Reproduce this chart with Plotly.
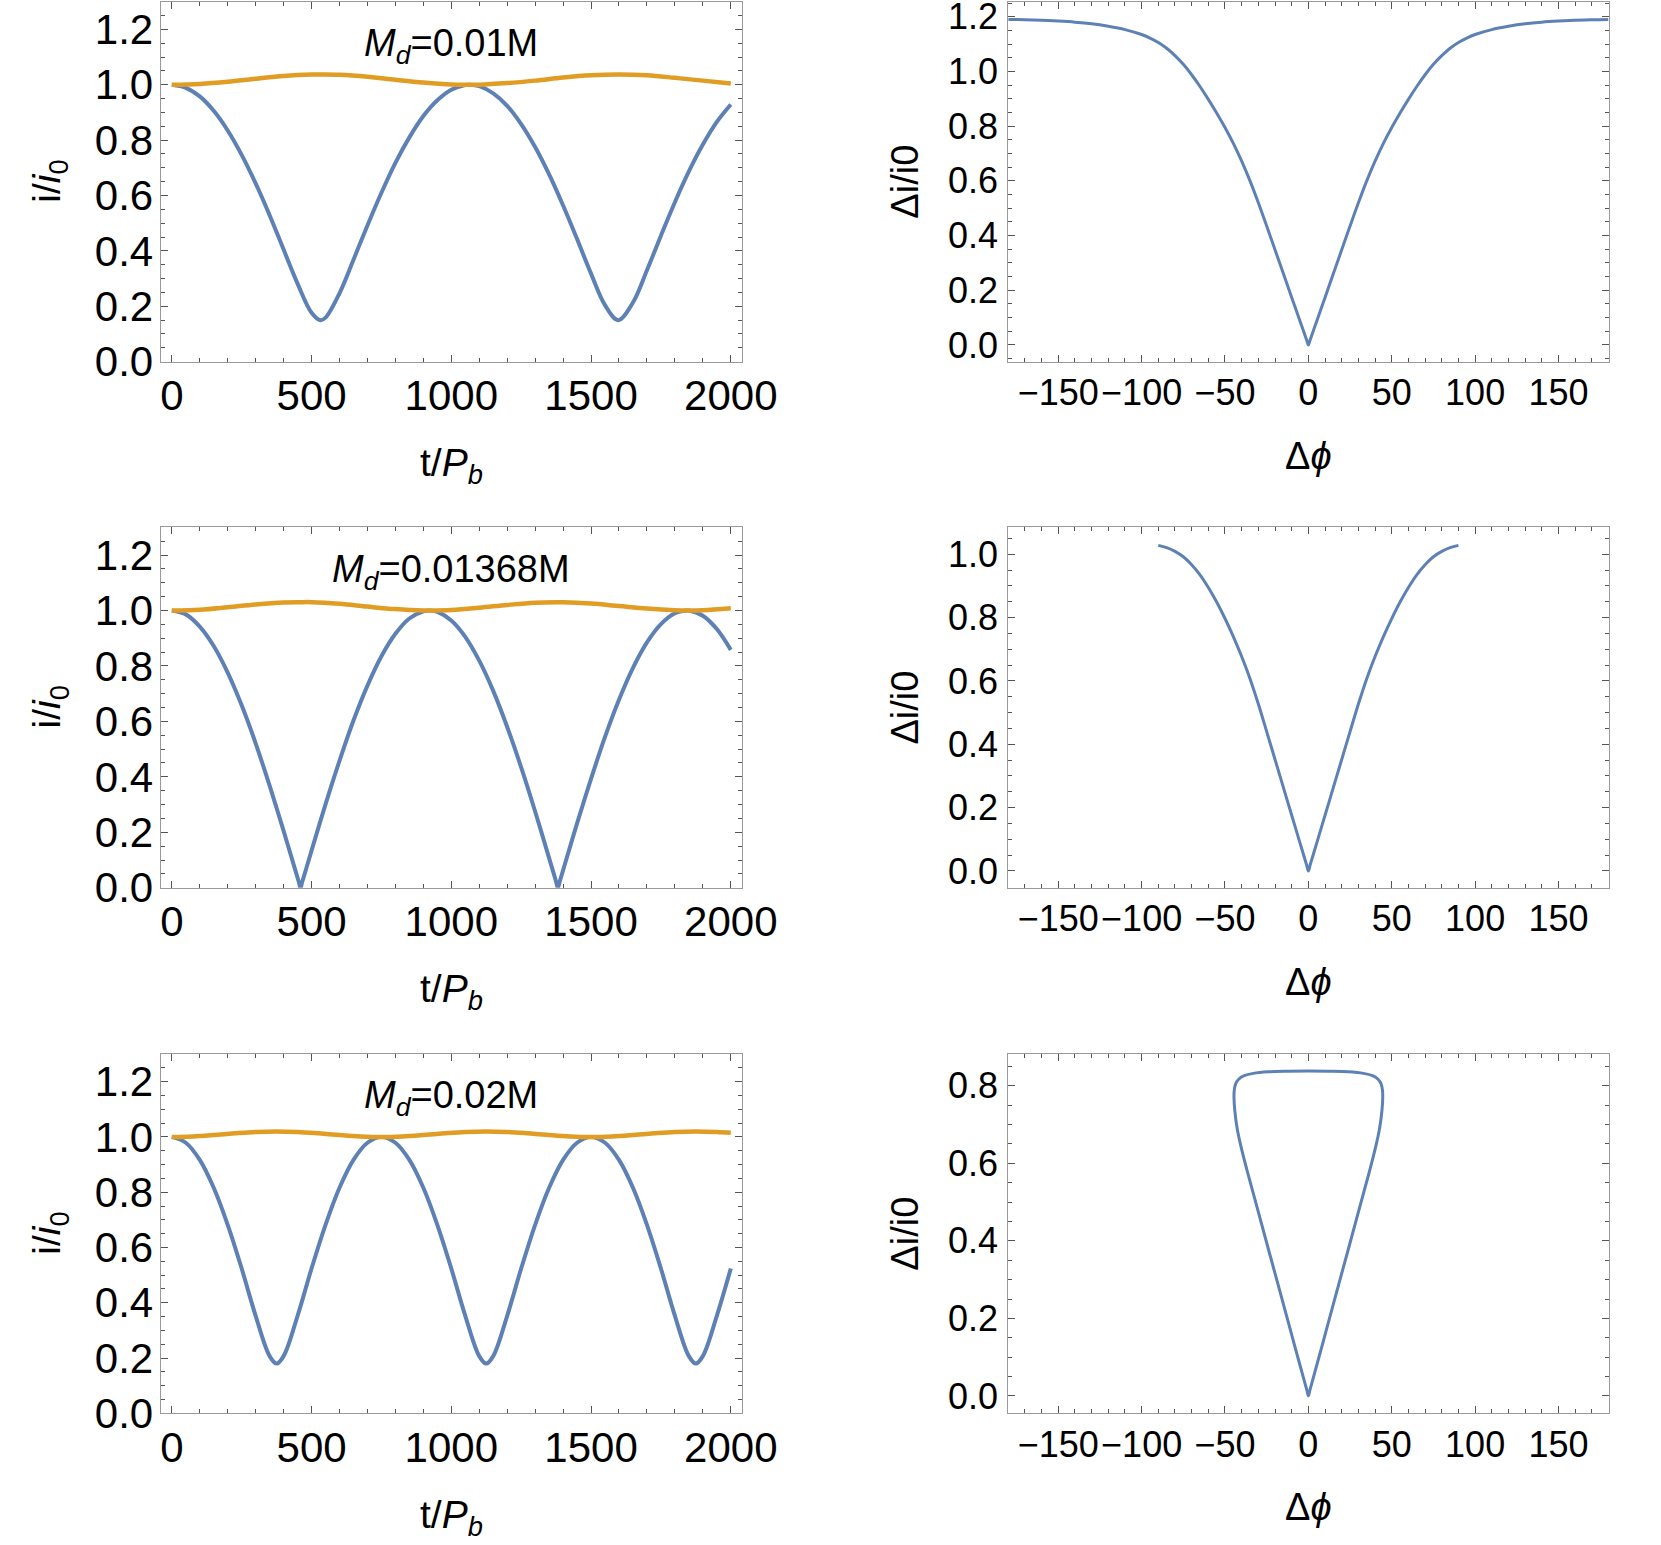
import plotly.graph_objects as go

W, H = 1661, 1545
BLUE = "#5E81B5"
ORANGE = "#E19C24"
FONT = "Liberation Sans, Arial, sans-serif"

# ---------------- left column: i/i0 vs t/P_b ----------------
# Md = 0.01M
t_a = [0, 50, 100, 150, 200, 250, 300, 350, 400, 450, 500, 532, 550, 600, 650, 700, 750, 800,
       850, 900, 950, 1000, 1050, 1065, 1100, 1150, 1200, 1250, 1300, 1350, 1400, 1450, 1500,
       1550, 1597, 1650, 1700, 1750, 1800, 1850, 1900, 1950, 2000]
blue_a = [1.000, 0.989, 0.958, 0.906, 0.835, 0.747, 0.644, 0.529, 0.405, 0.282, 0.177, 0.150,
          0.159, 0.247, 0.368, 0.492, 0.610, 0.718, 0.810, 0.887, 0.944, 0.982, 0.999, 1.000,
          0.995, 0.969, 0.924, 0.858, 0.775, 0.676, 0.564, 0.443, 0.318, 0.204, 0.150, 0.214,
          0.330, 0.455, 0.576, 0.687, 0.784, 0.866, 0.929]
to_a = [0, 100, 200, 300, 400, 500, 532, 600, 700, 800, 900, 1000, 1065, 1100, 1200, 1300,
        1400, 1500, 1597, 1700, 1800, 1900, 2000]
orange_a = [1.000, 1.003, 1.011, 1.022, 1.032, 1.037, 1.037, 1.036, 1.029, 1.018, 1.008, 1.001,
            1.000, 1.000, 1.006, 1.015, 1.026, 1.034, 1.037, 1.034, 1.025, 1.015, 1.005]

# Md = 0.01368M
t_b = [0, 50, 100, 150, 200, 250, 300, 350, 400, 440, 455, 460.5, 466, 480, 500, 550, 600, 650,
       700, 750, 800, 850, 900, 921, 950, 1000, 1050, 1100, 1150, 1200, 1250, 1300, 1350, 1375,
       1381.5, 1387, 1400, 1450, 1500, 1550, 1600, 1650, 1700, 1750, 1800, 1842, 1850, 1900,
       1950, 2000]
blue_b = [1.000, 0.986, 0.942, 0.872, 0.776, 0.658, 0.521, 0.368, 0.205, 0.070, 0.019, 0.000,
          0.019, 0.066, 0.134, 0.301, 0.458, 0.603, 0.729, 0.835, 0.916, 0.971, 0.997, 1.000,
          0.995, 0.964, 0.905, 0.819, 0.710, 0.580, 0.434, 0.275, 0.107, 0.022, 0.000, 0.019,
          0.063, 0.232, 0.393, 0.544, 0.678, 0.793, 0.885, 0.951, 0.990, 1.000, 1.000, 0.981,
          0.933, 0.858]
to_b = [0, 100, 200, 300, 400, 460, 500, 600, 700, 800, 900, 921, 1000, 1100, 1200, 1300, 1381,
        1400, 1500, 1600, 1700, 1800, 1842, 1900, 2000]
orange_b = [1.000, 1.003, 1.012, 1.022, 1.029, 1.030, 1.030, 1.024, 1.014, 1.005, 1.000, 1.000,
            1.002, 1.010, 1.020, 1.028, 1.030, 1.030, 1.025, 1.016, 1.007, 1.001, 1.000, 1.001,
            1.008]

# Md = 0.02M
t_c = [0, 50, 100, 150, 200, 250, 300, 350, 375, 400, 450, 500, 550, 600, 650, 700, 750, 800,
       850, 900, 950, 1000, 1050, 1100, 1125, 1150, 1200, 1250, 1300, 1350, 1400, 1450, 1500,
       1550, 1600, 1650, 1700, 1750, 1800, 1850, 1875, 1900, 1950, 2000]
blue_c = [1.000, 0.979, 0.917, 0.816, 0.682, 0.524, 0.353, 0.207, 0.180, 0.207, 0.353, 0.524,
          0.682, 0.816, 0.917, 0.979, 1.000, 0.979, 0.917, 0.816, 0.682, 0.524, 0.353, 0.207,
          0.180, 0.207, 0.353, 0.524, 0.682, 0.816, 0.917, 0.979, 1.000, 0.979, 0.917, 0.816,
          0.682, 0.524, 0.353, 0.207, 0.180, 0.207, 0.353, 0.524]
to_c = [0, 75, 150, 225, 300, 375, 450, 525, 600, 675, 750, 825, 900, 975, 1050, 1125, 1200,
        1275, 1350, 1425, 1500, 1575, 1650, 1725, 1800, 1875, 1950, 2000]
orange_c = [1.000, 1.002, 1.007, 1.013, 1.018, 1.020, 1.018, 1.013, 1.007, 1.002, 1.000, 1.002,
            1.007, 1.013, 1.018, 1.020, 1.018, 1.013, 1.007, 1.002, 1.000, 1.002, 1.007, 1.013,
            1.018, 1.020, 1.018, 1.015]

labels = ["0.01M", "0.01368M", "0.02M"]

# ---------------- right column: delta i / i0 vs delta phi ----------------
phi_a = [-180, -170, -160, -150, -140, -130, -120, -110, -100, -95, -90, -85, -80, -75, -70,
         -65, -60, -55, -50, -45, -40, -35, -30, -25, -20, -15, -10, -5, -1, 0,
         1, 5, 10, 15, 20, 25, 30, 35, 40, 45, 50, 55, 60, 65, 70, 75, 80, 85, 90, 95, 100,
         110, 120, 130, 140, 150, 160, 170, 180]
di_a = [1.190, 1.189, 1.187, 1.184, 1.180, 1.174, 1.165, 1.153, 1.135, 1.122, 1.106, 1.085,
        1.058, 1.026, 0.988, 0.945, 0.898, 0.848, 0.795, 0.737, 0.672, 0.600, 0.520, 0.435,
        0.348, 0.261, 0.174, 0.087, 0.017, 0.000,
        0.017, 0.087, 0.174, 0.261, 0.348, 0.435, 0.520, 0.600, 0.672, 0.737, 0.795, 0.848,
        0.898, 0.945, 0.988, 1.026, 1.058, 1.085, 1.106, 1.122, 1.135, 1.153, 1.165, 1.174,
        1.180, 1.184, 1.187, 1.189, 1.190]

phi_b = [-90, -85, -80, -75, -70, -65, -60, -55, -50, -45, -40, -35, -30, -25, -20, -15, -10,
         -5, -1, 0, 1, 5, 10, 15, 20, 25, 30, 35, 40, 45, 50, 55, 60, 65, 70, 75, 80, 85, 90]
di_b = [1.028, 1.021, 1.009, 0.992, 0.967, 0.935, 0.895, 0.849, 0.797, 0.740, 0.677, 0.607,
        0.527, 0.440, 0.352, 0.264, 0.176, 0.088, 0.018, 0.000, 0.018, 0.088, 0.176, 0.264,
        0.352, 0.440, 0.527, 0.607, 0.677, 0.740, 0.797, 0.849, 0.895, 0.935, 0.967, 0.992,
        1.009, 1.021, 1.028]

phi_c = [0, 1, 8, 16, 24, 31, 36.5, 40.5, 42.7, 44.1, 44.6, 44.4, 43.6, 41.8, 38.5, 33, 24, 12,
         0, -12, -24, -33, -38.5, -41.8, -43.6, -44.4, -44.6, -44.1, -42.7, -40.5, -36.5, -31,
         -24, -16, -8, -1, 0]
di_c = [0.000, 0.016, 0.126, 0.253, 0.379, 0.490, 0.577, 0.645, 0.690, 0.735, 0.770, 0.790,
        0.805, 0.817, 0.826, 0.832, 0.836, 0.8375, 0.838, 0.8375, 0.836, 0.832, 0.826, 0.817,
        0.805, 0.790, 0.770, 0.735, 0.690, 0.645, 0.577, 0.490, 0.379, 0.253, 0.126, 0.016,
        0.000]

# ---------------- layout geometry ----------------
X_DOM = [[0.0967, 0.4467], [0.6070, 0.9684]]
Y_DOM = [[0.7659, 0.9989], [0.4254, 0.6587], [0.0852, 0.3178]]
right_yrange = [[-0.061, 1.255], [-0.053, 1.085], [-0.045, 0.882]]

fig = go.Figure()
layout = dict(width=W, height=H, margin=dict(l=0, r=0, t=0, b=0, autoexpand=False),
              paper_bgcolor="white", plot_bgcolor="white", showlegend=False,
              font=dict(family=FONT, color="black"))


def axis_common(fs, standoff):
    return dict(showline=True, linecolor="#9a9a9a", linewidth=1, mirror="ticks",
                ticks="inside", ticklen=7, tickwidth=1, tickcolor="#555555",
                showgrid=False, zeroline=False, automargin=False,
                ticklabeloverflow="allow",
                tickfont=dict(size=fs, family=FONT, color="black"),
                ticklabelstandoff=standoff)


left = [(t_a, blue_a, to_a, orange_a), (t_b, blue_b, to_b, orange_b), (t_c, blue_c, to_c, orange_c)]
right = [(phi_a, di_a), (phi_b, di_b), (phi_c, di_c)]

annotations = []
for r in range(3):
    for c in range(2):
        idx = r * 2 + c + 1
        xa = "x" if idx == 1 else f"x{idx}"
        ya = "y" if idx == 1 else f"y{idx}"
        xkey = "xaxis" if idx == 1 else f"xaxis{idx}"
        ykey = "yaxis" if idx == 1 else f"yaxis{idx}"
        ymid = (Y_DOM[r][0] + Y_DOM[r][1]) / 2
        ybot_px = (1 - Y_DOM[r][0]) * H
        if c == 0:
            tt, bb, to, oo = left[r]
            fig.add_trace(go.Scatter(x=tt, y=bb, mode="lines", xaxis=xa, yaxis=ya,
                                     line=dict(color=BLUE, width=4, shape="spline", smoothing=1)))
            fig.add_trace(go.Scatter(x=to, y=oo, mode="lines", xaxis=xa, yaxis=ya,
                                     line=dict(color=ORANGE, width=4.5, shape="spline", smoothing=1)))
            xax = axis_common(42, -3)
            xax.update(domain=X_DOM[0], anchor=ya, range=[-40, 2040], dtick=500, tick0=0,
                       minor=dict(ticks="inside", ticklen=4, dtick=100, tick0=0, tickcolor="#555555"))
            yax = axis_common(42, -2)
            yax.update(domain=Y_DOM[r], anchor=xa, range=[0, 1.3], dtick=0.2, tick0=0,
                       tickformat=".1f",
                       minor=dict(ticks="inside", ticklen=4, dtick=0.05, tick0=0, tickcolor="#555555"))
            layout[xkey] = xax
            layout[ykey] = yax
            annotations.append(dict(xref=xa, yref=ya, x=1000, y=1.14, showarrow=False,
                                    text="<i>M</i><sub><i>d</i></sub>=" + labels[r],
                                    font=dict(size=38, family=FONT), xanchor="center", yanchor="middle"))
            annotations.append(dict(xref="paper", yref="paper", x=50 / W, y=ymid, showarrow=False,
                                    text="i/<i>i</i><sub>0</sub>", textangle=-90,
                                    font=dict(size=39, family=FONT), xanchor="center", yanchor="middle"))
            annotations.append(dict(xref="paper", yref="paper", x=sum(X_DOM[0]) / 2,
                                    y=1 - (ybot_px + 104) / H, showarrow=False,
                                    text="t/<i>P</i><sub><i>b</i></sub>",
                                    font=dict(size=39, family=FONT), xanchor="center", yanchor="middle"))
        else:
            pp, dd = right[r]
            fig.add_trace(go.Scatter(x=pp, y=dd, mode="lines", xaxis=xa, yaxis=ya,
                                     line=dict(color=BLUE, width=3, shape="spline", smoothing=1)))
            xax = axis_common(36, -1)
            xax.update(domain=X_DOM[1], anchor=ya, range=[-180, 180], dtick=50, tick0=0,
                       minor=dict(ticks="inside", ticklen=4, dtick=10, tick0=0, tickcolor="#555555"))
            yax = axis_common(36, 2)
            yax.update(domain=Y_DOM[r], anchor=xa, range=right_yrange[r], dtick=0.2, tick0=0,
                       tickformat=".1f",
                       minor=dict(ticks="inside", ticklen=4, dtick=0.05, tick0=0, tickcolor="#555555"))
            layout[xkey] = xax
            layout[ykey] = yax
            annotations.append(dict(xref="paper", yref="paper", x=905 / W, y=ymid, showarrow=False,
                                    text="Δi/i0", textangle=-90,
                                    font=dict(size=38, family=FONT), xanchor="center", yanchor="middle"))
            annotations.append(dict(xref="paper", yref="paper", x=sum(X_DOM[1]) / 2,
                                    y=1 - (ybot_px + 94) / H, showarrow=False,
                                    text="Δ<i>ϕ</i>",
                                    font=dict(size=38, family=FONT), xanchor="center", yanchor="middle"))

layout["annotations"] = annotations
fig.update_layout(**layout)
fig.write_html("out.html", config={"displayModeBar": False},
               post_script="document.body.style.margin='0px';")
